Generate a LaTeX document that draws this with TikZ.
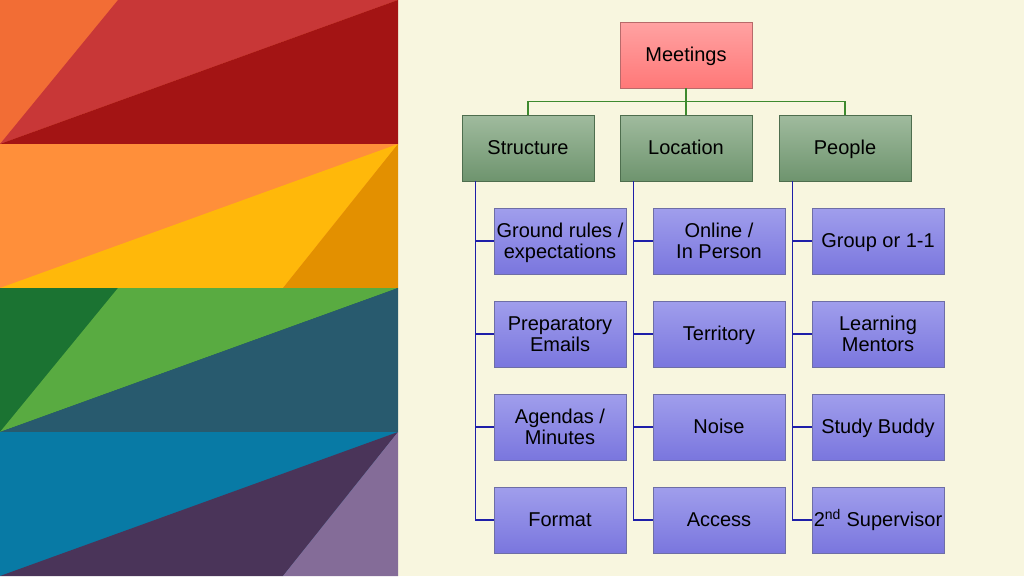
\documentclass[tikz,border=0pt]{standalone}
\usepackage{fontspec}
\setmainfont{Liberation Sans}

\definecolor{cream}{HTML}{F8F6DF}
\definecolor{orangeA}{HTML}{F26D35}
\definecolor{redA}{HTML}{C83737}
\definecolor{redB}{HTML}{A31414}
\definecolor{orangeB}{HTML}{FF8F3A}
\definecolor{yellowA}{HTML}{FFB80A}
\definecolor{yellowB}{HTML}{E39000}
\definecolor{greenA}{HTML}{1B7332}
\definecolor{greenB}{HTML}{59AB41}
\definecolor{tealA}{HTML}{285A6E}
\definecolor{blueA}{HTML}{087AA5}
\definecolor{purpleA}{HTML}{4A3459}
\definecolor{purpleB}{HTML}{846C98}
\definecolor{linkgreen}{HTML}{3E8A2E}
\definecolor{linkblue}{HTML}{1E1EA8}
\definecolor{rootTop}{HTML}{FFA2A2}
\definecolor{rootBot}{HTML}{FF7878}
\definecolor{rootLine}{HTML}{B86A6A}
\definecolor{headTop}{HTML}{A0BB9E}
\definecolor{headBot}{HTML}{6E946E}
\definecolor{headLine}{HTML}{4E6E4E}
\definecolor{itemTop}{HTML}{A09EEC}
\definecolor{itemBot}{HTML}{7A76DE}
\definecolor{itemLine}{HTML}{6E6EA6}

\tikzset{
  box/.style={minimum width=132pt, minimum height=66pt, inner sep=0pt, align=center,
    font=\fontsize{20}{21}\selectfont, line width=0.8pt,
    execute at begin node=\rule[-4.2pt]{0pt}{22.2pt}},
  twolines/.style={execute at begin node=\rule[-4.2pt]{0pt}{43.4pt}},
  rootbox/.style={box, draw=rootLine, top color=rootTop, bottom color=rootBot},
  headbox/.style={box, draw=headLine, top color=headTop, bottom color=headBot},
  itembox/.style={box, draw=itemLine, top color=itemTop, bottom color=itemBot},
  greenlink/.style={draw=linkgreen, line width=1.4pt},
  bluelink/.style={draw=linkblue, line width=1.5pt}
}

\begin{document}
\begin{tikzpicture}[x=1pt,y=-1pt]
  \useasboundingbox (0,0) rectangle (1024,576);
  % background
  \fill[cream] (0,0) rectangle (1024,576);

  % coloured bands on the left
  \fill[orangeA] (0,0) rectangle (398,144);
  \fill[redA] (118,0) -- (398,0) -- (0,144) -- cycle;
  \fill[redB] (0,144) -- (398,0) -- (398,144) -- cycle;

  \fill[orangeB] (0,144) rectangle (398,288);
  \fill[yellowA] (0,288) -- (398,144) -- (283,288) -- cycle;
  \fill[yellowB] (398,144) -- (398,288) -- (283,288) -- cycle;

  \fill[greenA] (0,288) rectangle (398,432);
  \fill[greenB] (118,288) -- (398,288) -- (0,432) -- cycle;
  \fill[tealA] (0,432) -- (398,288) -- (398,432) -- cycle;

  \fill[blueA] (0,432) rectangle (398,576);
  \fill[purpleA] (0,576) -- (398,432) -- (283,576) -- cycle;
  \fill[purpleB] (398,432) -- (398,576) -- (283,576) -- cycle;

  % top of the tree
  \node[rootbox] (meet) at (686,55) {Meetings};
  \node[headbox] (str) at (528,148) {Structure};
  \node[headbox] (loc) at (686,148) {Location};
  \node[headbox] (peo) at (845,148) {People};

  \coordinate (split) at ([yshift=-13pt]meet.south);
  \draw[greenlink] (meet.south) -- (split);
  \foreach \h in {str,loc,peo}
    \draw[greenlink] (split) -| (\h.north);

  % the three columns
  \node[itembox,twolines] (s1) at (560,241) {Ground rules /\\expectations};
  \node[itembox,twolines] (s2) at (560,334) {Preparatory\\Emails};
  \node[itembox,twolines] (s3) at (560,427) {Agendas /\\Minutes};
  \node[itembox] (s4) at (560,520) {Format};

  \node[itembox,twolines] (l1) at (719,241) {Online /\\In Person};
  \node[itembox] (l2) at (719,334) {Territory};
  \node[itembox] (l3) at (719,427) {Noise};
  \node[itembox] (l4) at (719,520) {Access};

  \node[itembox] (p1) at (878,241) {Group or 1-1};
  \node[itembox,twolines] (p2) at (878,334) {Learning\\Mentors};
  \node[itembox] (p3) at (878,427) {Study Buddy};
  \node[itembox] (p4) at (878,520) {2\textsuperscript{nd} Supervisor};

  % blue links
  \foreach \h/\c in {str/s,loc/l,peo/p} {
    \coordinate (\h bus) at ([xshift=14pt]\h.south west);
    \foreach \i in {1,...,4}
      \draw[bluelink] (\h bus) |- (\c\i.west);
  }
\end{tikzpicture}
\end{document}
